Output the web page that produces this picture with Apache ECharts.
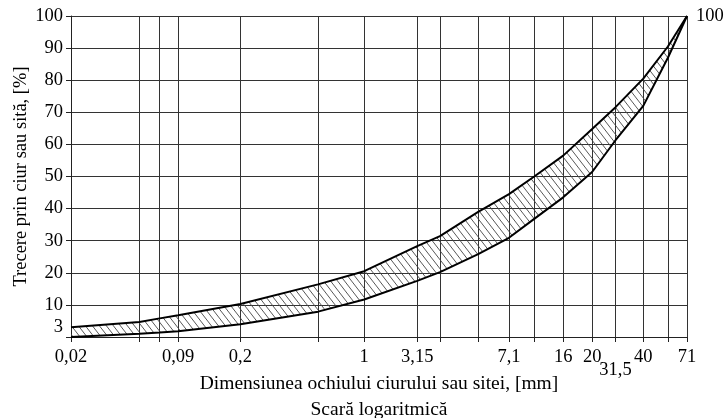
<!DOCTYPE html>
<html><head><meta charset="utf-8">
<script src="https://cdn.jsdelivr.net/npm/echarts@6/dist/echarts.min.js"></script>
<style>html,body{margin:0;padding:0;background:#fff}#c{width:727px;height:418px}</style>
</head><body><div id="c"></div>
<script>
// Sieve sizes (mm) shown on the chart's printed (pseudo-logarithmic) scale
const sieveLabels = ['0,02','','','0,09','0,2','','1','3,15','','','7,1','','16','20','31,5','40','','71'];
// Position of each sieve along the printed scale, 0 = first sieve, 100 = last sieve
const scalePosition = [0, 11.1, 14.4, 17.4, 27.5, 40.1, 47.6, 56.2, 59.9, 66.1, 71.1, 75.2, 79.9, 84.6, 88.4, 92.9, 96.9, 100];
// Passing percentages: upper and lower grading limits
const upperLimit = [3, 4.7, 5.8, 6.8, 10.3, 16.4, 20.5, 28.3, 31.4, 39, 44.5, 50, 56.5, 64.8, 71.6, 80.5, 90.5, 100];
const lowerLimit = [0, 1, 1.4, 1.8, 4.0, 7.9, 11.7, 17.5, 20.2, 25.8, 30.9, 36.8, 43.5, 51.4, 61.3, 72, 87, 100];
const yTickLabels = [3, 10, 20, 30, 40, 50, 60, 70, 80, 90, 100];

const FONT = "'Liberation Serif', 'Times New Roman', serif";

// hatch pattern tile
const tile = document.createElement('canvas');
tile.width = 7; tile.height = 9;
(function () {
  const g = tile.getContext('2d');
  g.strokeStyle = '#444';
  g.lineWidth = 0.9;
  for (const off of [-7, 0, 7]) {
    g.beginPath();
    g.moveTo(off, 0);
    g.lineTo(off + 7, 9);
    g.stroke();
  }
})();

const labelByPos = {};
scalePosition.forEach((p, i) => { labelByPos[p] = sieveLabels[i]; });
const labeledPos = scalePosition.filter((p, i) => sieveLabels[i] !== '');

const upperData = scalePosition.map((p, i) => [p, upperLimit[i]]);
const lowerData = scalePosition.map((p, i) => [p, lowerLimit[i]]);

const chart = echarts.init(document.getElementById('c'), null, {renderer: 'canvas'});
chart.setOption({
  animation: false,
  backgroundColor: '#fff',
  grid: {left: 71, right: 40, top: 16, bottom: 81, containLabel: false, outerBoundsMode: 'none'},
  xAxis: {
    type: 'value', min: 0, max: 100,
    name: 'Dimensiunea ochiului ciurului sau sitei, [mm]\nScară logaritmică',
    nameLocation: 'middle', nameGap: 34, nameMoveOverlap: false,
    nameTextStyle: {fontFamily: FONT, fontSize: 19.5, color: '#000', lineHeight: 26, verticalAlign: 'top'},
    axisLine: {show: true, lineStyle: {color: '#222', width: 1}},
    axisTick: {show: true, customValues: scalePosition, length: 5, lineStyle: {color: '#222'}},
    axisLabel: {
      customValues: labeledPos, margin: 14,
      fontFamily: FONT, fontSize: 18.5, color: '#000', lineHeight: 13,
      formatter: v => (labelByPos[v] === '31,5' ? '\n31,5' : labelByPos[v])
    },
    splitLine: {show: true, lineStyle: {color: '#333', width: 1}}
  },
  yAxis: {
    type: 'value', min: 0, max: 100, interval: 10,
    name: 'Trecere prin ciur sau sită, [%]',
    nameLocation: 'middle', nameGap: 40, nameMoveOverlap: false,
    nameTextStyle: {fontFamily: FONT, fontSize: 18.5, color: '#000'},
    axisLine: {show: true, lineStyle: {color: '#222', width: 1}},
    axisTick: {show: true, length: 5, lineStyle: {color: '#222'}},
    axisLabel: {customValues: yTickLabels, margin: 8, fontFamily: FONT, fontSize: 18.5, color: '#000'},
    splitLine: {show: true, lineStyle: {color: '#333', width: 1}}
  },
  series: [
    {
      type: 'custom',
      silent: true,
      data: [[0, 0]],
      renderItem: function (params, api) {
        const pts = [];
        for (let i = 0; i < upperData.length; i++) pts.push(api.coord(upperData[i]));
        for (let i = lowerData.length - 1; i >= 0; i--) pts.push(api.coord(lowerData[i]));
        return {type: 'polygon', shape: {points: pts}, style: {fill: {image: tile, repeat: 'repeat'}, stroke: null}};
      },
      z: 2
    },
    {
      type: 'line', data: upperData, symbol: 'none', z: 3,
      lineStyle: {color: '#000', width: 2},
      endLabel: {show: true, formatter: p => String(p.value[1]), distance: 9,
        fontFamily: FONT, fontSize: 18.5, color: '#000'}
    },
    {
      type: 'line', data: lowerData, symbol: 'none', z: 3,
      lineStyle: {color: '#000', width: 2}
    }
  ]
});
</script></body></html>
